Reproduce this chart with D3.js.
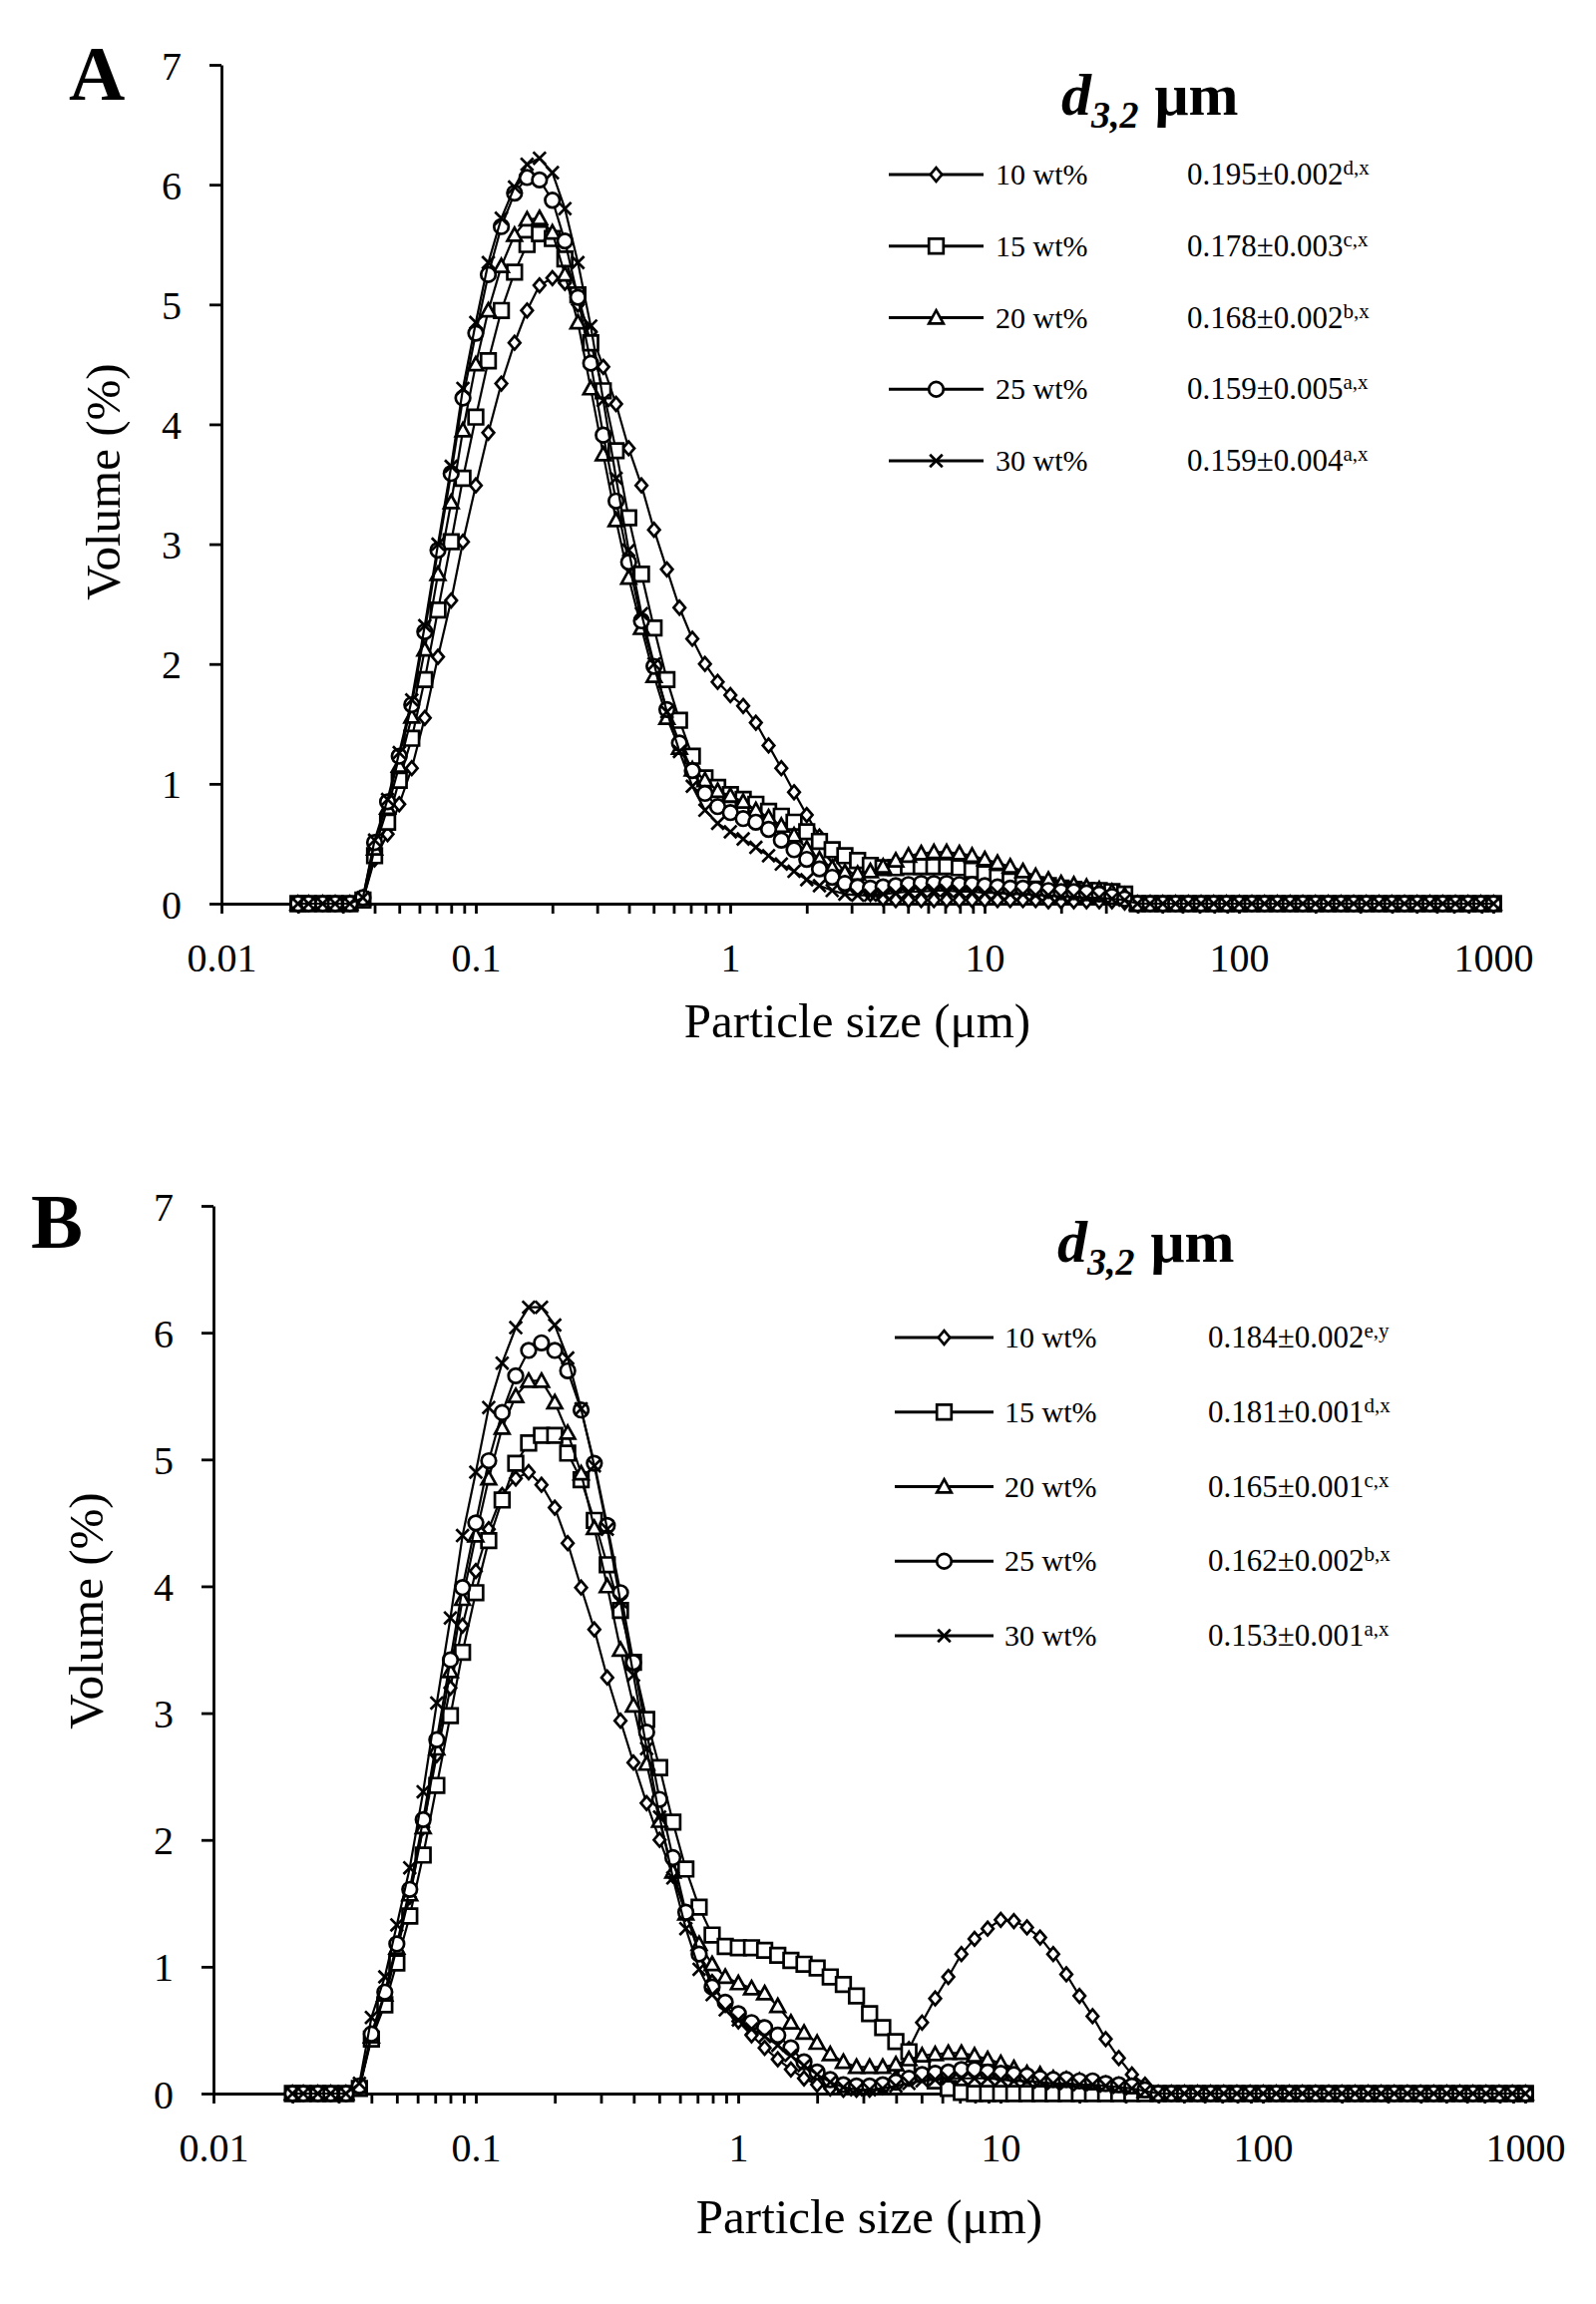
<!DOCTYPE html>
<html>
<head>
<meta charset="utf-8">
<script src="https://cdn.jsdelivr.net/npm/d3@7"></script>
<style>
  body { margin: 0; background: #fff; }
  svg { display: block; font-family: "Liberation Serif", "Times New Roman", serif; }
</style>
</head>
<body>
<div id="chart"></div>
<script>
// Laser diffraction size classes (µm)
const sizes = [
  0.020, 0.022, 0.025, 0.028, 0.032, 0.036, 0.040, 0.045, 0.050, 0.056,
  0.063, 0.071, 0.080, 0.089, 0.100, 0.112, 0.126, 0.142, 0.159, 0.178,
  0.200, 0.224, 0.252, 0.283, 0.317, 0.356, 0.399, 0.448, 0.502, 0.564,
  0.632, 0.710, 0.796, 0.893, 1.002, 1.125, 1.262, 1.416, 1.589, 1.783,
  2.000, 2.244, 2.518, 2.825, 3.170, 3.557, 3.991, 4.477, 5.024, 5.637,
  6.325, 7.096, 7.962, 8.934, 10.024, 11.247, 12.619, 14.159, 15.887, 17.825,
  20.000, 22.440, 25.179, 28.251, 31.698, 35.566, 39.905, 44.774, 50.238, 56.368,
  63.246, 70.963, 79.621, 89.337, 100.237, 112.468, 126.191, 141.589, 158.866, 178.250,
  200.000, 224.404, 251.785, 282.508, 316.979, 355.656, 399.052, 447.744, 502.377, 563.677,
  632.456, 709.627, 796.214, 893.367, 1002.374
];

const seriesLabels = ["10 wt%", "15 wt%", "20 wt%", "25 wt%", "30 wt%"];
const seriesSymbols = ["diamond", "square", "triangle", "circle", "cross"];

// Panel A volume (%)
const volumeA10 = [
  0, 0, 0, 0, 0, 0.03, 0.37, 0.58, 0.83, 1.13,
  1.55, 2.06, 2.53, 3.02, 3.49, 3.93, 4.34, 4.68, 4.95, 5.16,
  5.22, 5.18, 5.00, 4.77, 4.48, 4.17, 3.80, 3.49, 3.12, 2.79,
  2.47, 2.21, 2.00, 1.85, 1.74, 1.65, 1.51, 1.32, 1.13, 0.93,
  0.74, 0.56, 0.40, 0.26, 0.15, 0.08, 0.04, 0.03, 0.03, 0.03,
  0.03, 0.03, 0.03, 0.03, 0.03, 0.03, 0.03, 0.03, 0.03, 0.02,
  0.02, 0.02, 0.02, 0.02, 0.02, 0.01, 0, 0, 0, 0,
  0, 0, 0, 0, 0, 0, 0, 0, 0, 0,
  0, 0, 0, 0, 0, 0, 0, 0, 0, 0,
  0, 0, 0, 0, 0
];
const volumeA15 = [
  0, 0, 0, 0, 0, 0.03, 0.40, 0.68, 1.03, 1.38,
  1.87, 2.45, 3.02, 3.55, 4.06, 4.53, 4.95, 5.27, 5.50, 5.59,
  5.55, 5.38, 5.08, 4.68, 4.28, 3.78, 3.22, 2.75, 2.30, 1.87,
  1.53, 1.23, 1.05, 0.97, 0.91, 0.87, 0.83, 0.77, 0.73, 0.68,
  0.60, 0.52, 0.45, 0.40, 0.36, 0.32, 0.30, 0.30, 0.31, 0.31,
  0.31, 0.31, 0.30, 0.28, 0.25, 0.22, 0.19, 0.17, 0.16, 0.15,
  0.13, 0.12, 0.11, 0.11, 0.10, 0.08, 0, 0, 0, 0,
  0, 0, 0, 0, 0, 0, 0, 0, 0, 0,
  0, 0, 0, 0, 0, 0, 0, 0, 0, 0,
  0, 0, 0, 0, 0
];
const volumeA20 = [
  0, 0, 0, 0, 0, 0.04, 0.46, 0.80, 1.15, 1.56,
  2.12, 2.75, 3.35, 3.95, 4.50, 4.95, 5.32, 5.58, 5.71, 5.72,
  5.60, 5.25, 4.85, 4.30, 3.75, 3.20, 2.72, 2.30, 1.90, 1.55,
  1.30, 1.12, 1.03, 0.94, 0.90, 0.85, 0.78, 0.72, 0.65, 0.57,
  0.46, 0.37, 0.30, 0.26, 0.25, 0.27, 0.31, 0.36, 0.40, 0.42,
  0.43, 0.43, 0.42, 0.40, 0.37, 0.34, 0.31, 0.27, 0.23, 0.20,
  0.17, 0.16, 0.14, 0.12, 0.10, 0.07, 0, 0, 0, 0,
  0, 0, 0, 0, 0, 0, 0, 0, 0, 0,
  0, 0, 0, 0, 0, 0, 0, 0, 0, 0,
  0, 0, 0, 0, 0
];
const volumeA25 = [
  0, 0, 0, 0, 0, 0.05, 0.51, 0.85, 1.23, 1.66,
  2.27, 2.95, 3.59, 4.22, 4.76, 5.25, 5.65, 5.93, 6.06, 6.04,
  5.87, 5.53, 5.06, 4.51, 3.91, 3.36, 2.85, 2.36, 1.98, 1.62,
  1.34, 1.11, 0.92, 0.81, 0.76, 0.71, 0.68, 0.62, 0.53, 0.45,
  0.37, 0.29, 0.22, 0.17, 0.14, 0.13, 0.14, 0.15, 0.16, 0.17,
  0.17, 0.17, 0.16, 0.16, 0.15, 0.14, 0.13, 0.13, 0.12, 0.11,
  0.10, 0.10, 0.09, 0.08, 0.06, 0.04, 0, 0, 0, 0,
  0, 0, 0, 0, 0, 0, 0, 0, 0, 0,
  0, 0, 0, 0, 0, 0, 0, 0, 0, 0,
  0, 0, 0, 0, 0
];
const volumeA30 = [
  0, 0, 0, 0, 0, 0.05, 0.53, 0.87, 1.26, 1.70,
  2.32, 3.00, 3.65, 4.30, 4.85, 5.35, 5.72, 5.98, 6.17, 6.22,
  6.10, 5.80, 5.35, 4.82, 4.20, 3.55, 2.95, 2.42, 2.00, 1.60,
  1.27, 0.98, 0.78, 0.67, 0.60, 0.54, 0.47, 0.40, 0.33, 0.27,
  0.20, 0.15, 0.11, 0.08, 0.07, 0.07, 0.08, 0.09, 0.10, 0.10,
  0.11, 0.11, 0.10, 0.10, 0.09, 0.09, 0.08, 0.08, 0.07, 0.07,
  0.06, 0.06, 0.05, 0.05, 0.04, 0.03, 0, 0, 0, 0,
  0, 0, 0, 0, 0, 0, 0, 0, 0, 0,
  0, 0, 0, 0, 0, 0, 0, 0, 0, 0,
  0, 0, 0, 0, 0
];

// Panel B volume (%)
const volumeB10 = [
  0, 0, 0, 0, 0, 0.05, 0.45, 0.75, 1.12, 1.55,
  2.10, 2.67, 3.20, 3.69, 4.12, 4.45, 4.72, 4.85, 4.90, 4.80,
  4.62, 4.34, 3.99, 3.66, 3.28, 2.94, 2.61, 2.29, 2.00, 1.72,
  1.42, 1.12, 0.88, 0.70, 0.57, 0.46, 0.36, 0.27, 0.19, 0.12,
  0.07, 0.04, 0.03, 0.03, 0.03, 0.05, 0.12, 0.35, 0.56, 0.75,
  0.92, 1.10, 1.22, 1.30, 1.37, 1.36, 1.31, 1.23, 1.10, 0.94,
  0.77, 0.61, 0.43, 0.28, 0.15, 0.07, 0, 0, 0, 0,
  0, 0, 0, 0, 0, 0, 0, 0, 0, 0,
  0, 0, 0, 0, 0, 0, 0, 0, 0, 0,
  0, 0, 0, 0, 0
];
const volumeB15 = [
  0, 0, 0, 0, 0, 0.04, 0.43, 0.70, 1.03, 1.40,
  1.88, 2.43, 2.98, 3.48, 3.95, 4.36, 4.68, 4.97, 5.13, 5.19,
  5.19, 5.05, 4.84, 4.52, 4.17, 3.81, 3.40, 2.95, 2.57, 2.14,
  1.77, 1.47, 1.25, 1.16, 1.15, 1.15, 1.13, 1.09, 1.05, 1.02,
  0.99, 0.92, 0.86, 0.77, 0.63, 0.52, 0.41, 0.33, 0.20, 0.10,
  0.04, 0.01, 0, 0, 0, 0, 0, 0, 0, 0,
  0, 0, 0, 0, 0, 0, 0, 0, 0, 0,
  0, 0, 0, 0, 0, 0, 0, 0, 0, 0,
  0, 0, 0, 0, 0, 0, 0, 0, 0, 0,
  0, 0, 0, 0, 0
];
const volumeB20 = [
  0, 0, 0, 0, 0, 0.05, 0.45, 0.78, 1.15, 1.57,
  2.10, 2.72, 3.33, 3.90, 4.40, 4.85, 5.25, 5.50, 5.62, 5.62,
  5.45, 5.21, 4.89, 4.46, 4.00, 3.50, 3.06, 2.60, 2.15, 1.75,
  1.42, 1.18, 1.02, 0.92, 0.87, 0.83, 0.79, 0.69, 0.56, 0.48,
  0.40, 0.31, 0.25, 0.21, 0.21, 0.21, 0.23, 0.27, 0.30, 0.31,
  0.32, 0.32, 0.30, 0.27, 0.24, 0.20, 0.16, 0.15, 0.12, 0.11,
  0.10, 0.08, 0.07, 0.06, 0.05, 0.02, 0, 0, 0, 0,
  0, 0, 0, 0, 0, 0, 0, 0, 0, 0,
  0, 0, 0, 0, 0, 0, 0, 0, 0, 0,
  0, 0, 0, 0, 0
];
const volumeB25 = [
  0, 0, 0, 0, 0, 0.06, 0.47, 0.80, 1.18, 1.61,
  2.16, 2.79, 3.42, 3.99, 4.50, 4.99, 5.37, 5.66, 5.86, 5.92,
  5.86, 5.70, 5.39, 4.97, 4.48, 3.95, 3.40, 2.85, 2.32, 1.86,
  1.43, 1.10, 0.84, 0.72, 0.63, 0.56, 0.52, 0.46, 0.36, 0.25,
  0.17, 0.11, 0.07, 0.06, 0.06, 0.07, 0.09, 0.12, 0.15, 0.16,
  0.17, 0.19, 0.19, 0.17, 0.16, 0.15, 0.14, 0.12, 0.11, 0.11,
  0.10, 0.10, 0.08, 0.07, 0.06, 0.03, 0, 0, 0, 0,
  0, 0, 0, 0, 0, 0, 0, 0, 0, 0,
  0, 0, 0, 0, 0, 0, 0, 0, 0, 0,
  0, 0, 0, 0, 0
];
const volumeB30 = [
  0, 0, 0, 0, 0, 0.08, 0.60, 0.92, 1.33, 1.78,
  2.38, 3.08, 3.75, 4.40, 4.90, 5.41, 5.76, 6.04, 6.20, 6.20,
  6.06, 5.80, 5.40, 4.95, 4.45, 3.88, 3.30, 2.72, 2.18, 1.70,
  1.30, 0.98, 0.78, 0.66, 0.58, 0.51, 0.45, 0.38, 0.30, 0.22,
  0.15, 0.09, 0.05, 0.03, 0.03, 0.04, 0.06, 0.08, 0.10, 0.11,
  0.12, 0.12, 0.12, 0.12, 0.11, 0.10, 0.10, 0.09, 0.08, 0.08,
  0.07, 0.07, 0.06, 0.05, 0.04, 0.02, 0, 0, 0, 0,
  0, 0, 0, 0, 0, 0, 0, 0, 0, 0,
  0, 0, 0, 0, 0, 0, 0, 0, 0, 0,
  0, 0, 0, 0, 0
];

// d3,2 values and significance letters
const d32A = ["0.195±0.002", "0.178±0.003", "0.168±0.002", "0.159±0.005", "0.159±0.004"];
const d32ASup = ["d,x", "c,x", "b,x", "a,x", "a,x"];
const d32B = ["0.184±0.002", "0.181±0.001", "0.165±0.001", "0.162±0.002", "0.153±0.001"];
const d32BSup = ["e,y", "d,x", "c,x", "b,x", "a,x"];

const xTickValues = [0.01, 0.1, 1, 10, 100, 1000];
const xTickLabels = ["0.01", "0.1", "1", "10", "100", "1000"];
const yTickValues = [0, 1, 2, 3, 4, 5, 6, 7];

// layout of the two panels (pixels)
const panels = [
  { letter: "A", series: [volumeA10, volumeA15, volumeA20, volumeA25, volumeA30], d32: d32A, sup: d32ASup,
    x0: 222, x1: 1497, y0: 906, y1: 65, letterX: 69, letterY: 100,
    titleX: 1064, titleY: 115, legendX: 891, legendLen: 95, legendY: 175, legendStep: 71.75,
    labelX: 998, valueX: 1190, yTitleX: 120, yTitleY: 483, xTitleY: 1040 },
  { letter: "B", series: [volumeB10, volumeB15, volumeB20, volumeB25, volumeB30], d32: d32B, sup: d32BSup,
    x0: 214, x1: 1529, y0: 2099, y1: 1209, letterX: 31, letterY: 1251,
    titleX: 1060, titleY: 1265, legendX: 897, legendLen: 99, legendY: 1341, legendStep: 74.75,
    labelX: 1007, valueX: 1211, yTitleX: 103, yTitleY: 1615, xTitleY: 2239 }
];

// marker shapes, size = half width
const markerShapes = {
  diamond:  { draw(c, r) { c.moveTo(0, -r); c.lineTo(r * 0.85, 0); c.lineTo(0, r); c.lineTo(-r * 0.85, 0); c.closePath(); } },
  square:   { draw(c, r) { c.rect(-r, -r, 2 * r, 2 * r); } },
  triangle: { draw(c, r) { c.moveTo(0, -r); c.lineTo(r, r * 0.8); c.lineTo(-r, r * 0.8); c.closePath(); } },
  circle:   { draw(c, r) { c.moveTo(r, 0); c.arc(0, 0, r, 0, 2 * Math.PI); } },
  cross:    { draw(c, r) { c.moveTo(-r, -r); c.lineTo(r, r); c.moveTo(-r, r); c.lineTo(r, -r); } }
};
const markerSize = { diamond: 6.8, square: 7.3, triangle: 7.3, circle: 7.3, cross: 6.3 };

function symbolPath(name) {
  return d3.symbol().type(markerShapes[name]).size(markerSize[name])();
}

const svg = d3.select("#chart").append("svg")
  .attr("width", 1600)
  .attr("height", 2310);

svg.append("rect").attr("width", 1600).attr("height", 2310).attr("fill", "#fff");

function drawPanel(p) {
  const g = svg.append("g");
  const x = d3.scaleLog().domain([0.01, 1000]).range([p.x0, p.x1]);
  const y = d3.scaleLinear().domain([0, 7]).range([p.y0, p.y1]);

  // minor ticks 2..9 within each decade
  const minorTicks = [];
  xTickValues.slice(0, -1).forEach(d => {
    for (let m = 2; m <= 9; m++) minorTicks.push(d * m);
  });

  const xAxis = d3.axisBottom(x)
    .tickValues(xTickValues.concat(minorTicks))
    .tickFormat(d => {
      const i = xTickValues.indexOf(d);
      return i >= 0 ? xTickLabels[i] : "";
    })
    .tickSize(10)
    .tickSizeOuter(0);

  const yAxis = d3.axisLeft(y)
    .tickValues(yTickValues)
    .tickFormat(d3.format("d"))
    .tickSize(12)
    .tickSizeOuter(0);

  const gx = g.append("g").attr("transform", `translate(0,${p.y0})`).call(xAxis);
  const gy = g.append("g").attr("transform", `translate(${p.x0},0)`).call(yAxis);

  [gx, gy].forEach(a => {
    a.attr("font-family", null).attr("font-size", null);
    a.selectAll("path.domain, line").attr("stroke", "#000").attr("stroke-width", 2.8);
    a.selectAll("text").attr("fill", "#000").attr("font-size", 40);
  });
  gx.selectAll("text").attr("y", 68).attr("dy", 0);
  gy.selectAll("text").attr("x", -40).attr("dy", "0.35em");

  // axis titles
  g.append("text")
    .attr("x", (p.x0 + p.x1) / 2)
    .attr("y", p.xTitleY)
    .attr("text-anchor", "middle")
    .attr("font-size", 49)
    .text("Particle size (μm)");

  g.append("text")
    .attr("transform", `translate(${p.yTitleX},${p.yTitleY}) rotate(-90)`)
    .attr("text-anchor", "middle")
    .attr("font-size", 49)
    .text("Volume (%)");

  // panel letter
  g.append("text")
    .attr("x", p.letterX)
    .attr("y", p.letterY)
    .attr("font-size", 78)
    .attr("font-weight", "bold")
    .text(p.letter);

  // series: line then markers
  const line = d3.line()
    .x(d => x(d.size))
    .y(d => y(d.v));

  p.series.forEach((vals, i) => {
    const pts = sizes.map((s, k) => ({ size: s, v: vals[k] }));
    const name = seriesSymbols[i];
    const sg = g.append("g");

    sg.append("path")
      .datum(pts)
      .attr("d", line)
      .attr("fill", "none")
      .attr("stroke", "#000")
      .attr("stroke-width", 2.2);

    sg.selectAll("path.marker")
      .data(pts)
      .enter()
      .append("path")
      .attr("class", "marker")
      .attr("d", symbolPath(name))
      .attr("transform", d => `translate(${x(d.size)},${y(d.v)})`)
      .attr("fill", name === "cross" ? "none" : "#fff")
      .attr("stroke", "#000")
      .attr("stroke-width", 2.7);
  });

  // legend title d3,2 µm
  const title = g.append("text")
    .attr("x", p.titleX)
    .attr("y", p.titleY)
    .attr("font-size", 60)
    .attr("font-weight", "bold");
  title.append("tspan").attr("font-style", "italic").text("d");
  title.append("tspan").attr("font-style", "italic").attr("font-size", 38).attr("dy", 13).text("3,2");
  title.append("tspan").attr("dy", -13).attr("dx", 16).text("μm");

  // legend rows
  seriesLabels.forEach((lab, i) => {
    const yy = p.legendY + i * p.legendStep;
    const name = seriesSymbols[i];
    g.append("line")
      .attr("x1", p.legendX).attr("x2", p.legendX + p.legendLen)
      .attr("y1", yy).attr("y2", yy)
      .attr("stroke", "#000").attr("stroke-width", 2.8);
    g.append("path")
      .attr("d", symbolPath(name))
      .attr("transform", `translate(${p.legendX + p.legendLen / 2},${yy})`)
      .attr("fill", name === "cross" ? "none" : "#fff")
      .attr("stroke", "#000")
      .attr("stroke-width", 2.7);
    g.append("text")
      .attr("x", p.labelX)
      .attr("y", yy + 10)
      .attr("font-size", 30)
      .text(lab);
    const t = g.append("text")
      .attr("x", p.valueX)
      .attr("y", yy + 10)
      .attr("font-size", 31);
    t.append("tspan").text(p.d32[i]);
    t.append("tspan").attr("font-size", 21).attr("dy", -10).text(p.sup[i]);
  });
}

panels.forEach(drawPanel);
</script>
</body>
</html>
